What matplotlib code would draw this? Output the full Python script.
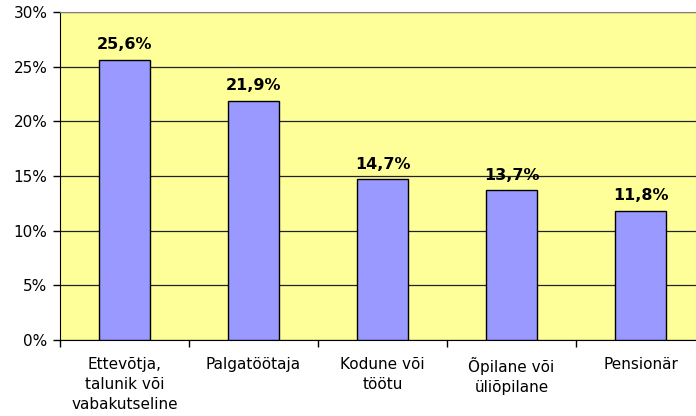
import matplotlib
matplotlib.use("Agg")
import matplotlib.pyplot as plt

categories = ["Ettevõtja,\ntalunik või\nvabakutseline", "Palgatöötaja", "Kodune või\ntöötu", "Õpilane või\nüliõpilane", "Pensionär"]
values = [25.6, 21.9, 14.7, 13.7, 11.8]
value_labels = ["25,6%", "21,9%", "14,7%", "13,7%", "11,8%"]
yticks = [0, 5, 10, 15, 20, 25, 30]
ytick_labels = ["0%", "5%", "10%", "15%", "20%", "25%", "30%"]

plt.rcParams['font.family'] = ['DejaVu Sans']
fig = plt.figure(figsize=(6.96, 4.16), dpi=100)
W, H = 696, 416
ax = fig.add_axes([60 / W, (H - 340) / H, 645 / W, 328 / H])
ax.set_facecolor("#FFFF99")

x = list(range(len(categories)))
ax.bar(x, values, width=0.4, color="#9999FF", edgecolor="black", linewidth=1, zorder=3)
for xi, v, lab in zip(x, values, value_labels):
    ax.annotate(lab, (xi, v), xytext=(0, 5.5), textcoords="offset points",
                ha="center", va="bottom", fontsize=11.5, fontweight="bold", zorder=4)

ax.set_xlim(-0.5, len(categories) - 0.5)
ax.set_ylim(0, 30)
ax.set_yticks(yticks)
ax.set_yticklabels(ytick_labels, fontsize=11)
ax.yaxis.grid(True, color="#222222", linewidth=0.9, zorder=1)
ax.set_axisbelow(True)

ax.set_xticks(x)
ax.set_xticklabels(categories, fontsize=11, linespacing=1.45)
ax.tick_params(axis="x", length=0, pad=12)
ax.set_xticks([i + 0.5 for i in range(-1, len(categories))], minor=True)
ax.tick_params(axis="x", which="minor", length=5, width=1, direction="out")
ax.tick_params(axis="y", length=5, width=1, direction="out", pad=4)

ax.spines["right"].set_visible(False)
ax.spines["top"].set_color("#808080")
ax.spines["left"].set_color("black")
ax.spines["bottom"].set_color("black")

fig.savefig("out.png", dpi=100)
